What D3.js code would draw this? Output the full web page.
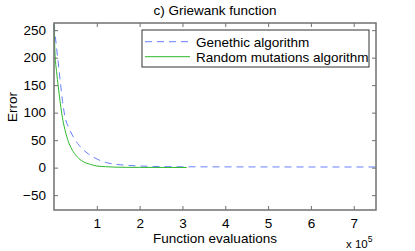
<!DOCTYPE html>
<html><head><meta charset="utf-8">
<script src="https://cdn.jsdelivr.net/npm/d3@7"></script>
<style>
html,body{margin:0;padding:0;background:#fff;}
svg text{font-family:"Liberation Sans",Arial,Helvetica,sans-serif;}
</style></head>
<body><svg id="c" width="415" height="251"></svg>
<script>
// Data (x in units of 1e5 function evaluations)
const gaX = [0, 0.05, 0.1, 0.156, 0.2, 0.257, 0.35, 0.45, 0.55, 0.65, 0.8, 0.92, 1.05, 1.23, 1.4, 1.62, 2.0, 2.33, 3, 4, 5, 6, 7, 7.52];
const gaY = [260, 225, 190, 150, 120, 92.5, 72, 56, 44, 35, 25, 19, 14, 9, 6.5, 4.7, 3, 2.2, 1.6, 1.4, 1.3, 1.2, 1.2, 1.2];
const rmX = [0, 0.023, 0.06, 0.1, 0.18, 0.3, 0.45, 0.55, 0.68, 0.85, 1.0, 1.2, 1.39, 1.7, 2.0, 2.5, 3.1];
const rmY = [262, 208, 175, 147, 99, 56, 29, 19, 11, 6, 3, 1.8, 1, 0.6, 0.5, 0.4, 0.3];
const xTicks = [1, 2, 3, 4, 5, 6, 7];
const yTicks = [-50, 0, 50, 100, 150, 200, 250];
const seriesNames = ["Genethic algorithm", "Random mutations algorithm"];
const colors = ["#6680ff", "#2db82d"];

const svg = d3.select("#c");
const L = 54, R = 376, T = 23, B = 210;
const x = d3.scaleLinear().domain([0, 7.52]).range([L, R]);
const y = d3.scaleLinear().domain([-77, 263]).range([B, T]);

const plot = svg.append("g");
const line = d3.line().x(d => x(d[0])).y(d => y(d[1])).curve(d3.curveMonotoneX);
const gaData = gaX.map((v, i) => [v, gaY[i]]);
const rmData = rmX.map((v, i) => [v, rmY[i]]);
plot.append("path").datum(gaData).attr("d", line).attr("fill", "none")
  .attr("stroke", colors[0]).attr("stroke-width", 1).attr("stroke-dasharray", "7,5");
plot.append("path").datum(rmData).attr("d", line).attr("fill", "none")
  .attr("stroke", colors[1]).attr("stroke-width", 1);

// Axes box
const axCol = "#707070";
svg.append("rect").attr("x", L).attr("y", T).attr("width", R - L).attr("height", B - T)
  .attr("fill", "none").attr("stroke", axCol).attr("stroke-width", 1.5);

const tl = 4;
const xAxisB = d3.axisBottom(x).tickValues(xTicks).tickSize(-tl).tickPadding(8).tickFormat(d3.format("d"));
const gxb = svg.append("g").attr("transform", `translate(0,${B})`).call(xAxisB);
const gxt = svg.append("g").attr("transform", `translate(0,${T})`).call(d3.axisTop(x).tickValues(xTicks).tickSize(-tl).tickFormat(""));
const gyl = svg.append("g").attr("transform", `translate(${L},0)`).call(d3.axisLeft(y).tickValues(yTicks).tickSize(-tl).tickPadding(8).tickFormat(d3.format("d")));
const gyr = svg.append("g").attr("transform", `translate(${R},0)`).call(d3.axisRight(y).tickValues(yTicks).tickSize(-tl).tickFormat(""));
[gxb, gxt, gyl, gyr].forEach(g => {
  g.select(".domain").remove();
  g.selectAll(".tick line").attr("stroke", axCol).attr("stroke-width", 1);
  g.selectAll(".tick text").attr("fill", "#000").style("font-size", "13.5px")
    .style("font-family", '"Liberation Sans",Arial,sans-serif');
});
gyl.selectAll(".tick text").text(d => d < 0 ? "\u2212" + Math.abs(d) : d);

// Titles
svg.append("text").attr("x", (L + R) / 2).attr("y", 15).attr("text-anchor", "middle")
  .style("font-size", "13.5px").text("c) Griewank function");
svg.append("text").attr("x", (L + R) / 2).attr("y", 243).attr("text-anchor", "middle")
  .style("font-size", "13.5px").text("Function evaluations");
svg.append("text").attr("transform", `translate(17,107) rotate(-90)`).attr("text-anchor", "middle")
  .style("font-size", "13.5px").text("Error");
const ex = svg.append("text").attr("x", 346).attr("y", 248).style("font-size", "11.5px");
ex.append("tspan").text("x 10");
ex.append("tspan").attr("dy", -6).style("font-size", "8.5px").text("5");

// Legend
const lg = svg.append("g");
lg.append("rect").attr("x", 142).attr("y", 30).attr("width", 227).attr("height", 37)
  .attr("fill", "#fff").attr("stroke", "#333").attr("stroke-width", 1);
const rows = [41.7, 56.7];
seriesNames.forEach((n, i) => {
  const ln = lg.append("line").attr("x1", 145).attr("x2", 190).attr("y1", rows[i]).attr("y2", rows[i])
    .attr("stroke", colors[i]).attr("stroke-width", 1);
  if (i === 0) ln.attr("stroke-dasharray", "7,5");
  lg.append("text").attr("x", 196).attr("y", rows[i] + 4.8).style("font-size", "13.5px").text(n);
});
</script></body></html>
